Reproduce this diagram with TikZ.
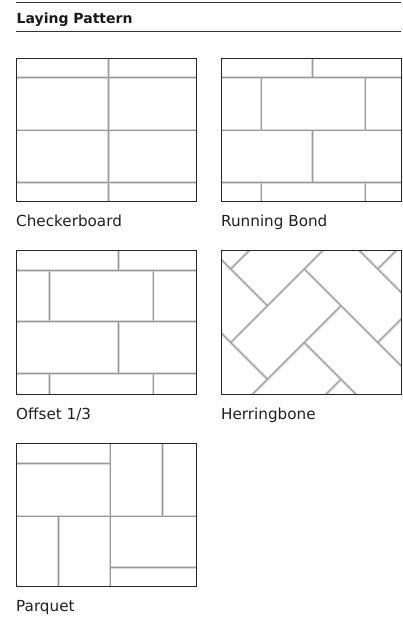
\documentclass[tikz,border=0pt]{standalone}
\usepackage{fontspec}
\setmainfont{DejaVu Sans}
\begin{document}
\begin{tikzpicture}[x=1pt,y=-1pt,
  grout/.style={draw=black!40, line width=0.9pt, line cap=butt, preaction={draw=black!15, line width=2.8pt}},
  frame/.style={draw=black!85, line width=0.8pt},
  rulestyle/.style={draw=black!80, line width=0.8pt},
  lbl/.style={anchor=base west, inner sep=0pt, font=\fontsize{15.2}{18}\selectfont, text=black!88},
  ttl/.style={anchor=base west, inner sep=0pt, font=\bfseries\fontsize{14}{17}\selectfont, text=black!90},
]
\useasboundingbox (0,0) rectangle (403,618);

% header
\coordinate (h1a) at (16,2);   \coordinate (h1b) at (401,2);
\coordinate (h2a) at (16,31);  \coordinate (h2b) at (401,31);
\draw[rulestyle] (h1a) -- (h1b);
\draw[rulestyle] (h2a) -- (h2b);
\node[ttl] (title) at (16.5,24) {Laying Pattern};

% A: Checkerboard
\draw[grout] (16,77.7) -- (196,77.7) (16,130) -- (196,130) (16,182.3) -- (196,182.3)
  (108.3,58.3) -- (108.3,201.7);
\draw[frame] (16,58.3) rectangle (196,201.7);
\node[lbl] (lA) at (16,226.7) {Checkerboard};

% B: Running Bond
\draw[grout] (221,77.7) -- (401,77.7) (221,130) -- (401,130) (221,182.3) -- (401,182.3)
  (312.7,58.3) -- (312.7,77.7)
  (261,77.7) -- (261,130) (365,77.7) -- (365,130)
  (312.7,130) -- (312.7,182.3)
  (261,182.3) -- (261,201.7) (365,182.3) -- (365,201.7);
\draw[frame] (221,58.3) rectangle (401,201.7);
\node[lbl] (lB) at (221,226.7) {Running Bond};

% C: Offset 1/3
\draw[grout] (16,270.1) -- (196,270.1) (16,321.8) -- (196,321.8) (16,373.6) -- (196,373.6)
  (118.3,250.8) -- (118.3,270.1)
  (49.3,270.1) -- (49.3,321.8) (153,270.1) -- (153,321.8)
  (118.3,321.8) -- (118.3,373.6)
  (49.3,373.6) -- (49.3,394.2) (153,373.6) -- (153,394.2);
\draw[frame] (16,250.8) rectangle (196,394.2);
\node[lbl] (lC) at (16,419) {Offset 1/3};

% D: Herringbone
\begin{scope}
\clip (221,250.8) rectangle (401,394.2);
\begin{scope}[shift={(230.7,269)}, x={(36.77pt,0pt)}, y={(0pt,-36.77pt)}]
\draw[grout]
  (0,0) -- (0.7,-0.7)
  (-0.7,-0.7) -- (1,1)
  (0,2) -- (2.7,-0.7)
  (2,0) -- (5,3)
  (3.3,-0.7) -- (5,1)
  (4,0) -- (4.7,-0.7)
  (0.3,3.7) -- (3,1)
  (-0.7,1.3) -- (1,3)
  (2,2) -- (3.7,3.7)
  (3,3) -- (2.3,3.7)
  (4,2) -- (5,1);
\end{scope}
\end{scope}
\draw[frame] (221,250.8) rectangle (401,394.2);
\node[lbl] (lD) at (221,419) {Herringbone};

% E: Parquet
\draw[grout] (16,463.3) -- (110,463.3)
  (110,443.3) -- (110,586.7)
  (162.3,443.3) -- (162.3,516)
  (16,516) -- (196,516)
  (58.3,516) -- (58.3,586.7)
  (110,567.7) -- (196,567.7);
\draw[frame] (16,443.3) rectangle (196,586.7);
\node[lbl] (lE) at (16,611.3) {Parquet};
\end{tikzpicture}
\end{document}
